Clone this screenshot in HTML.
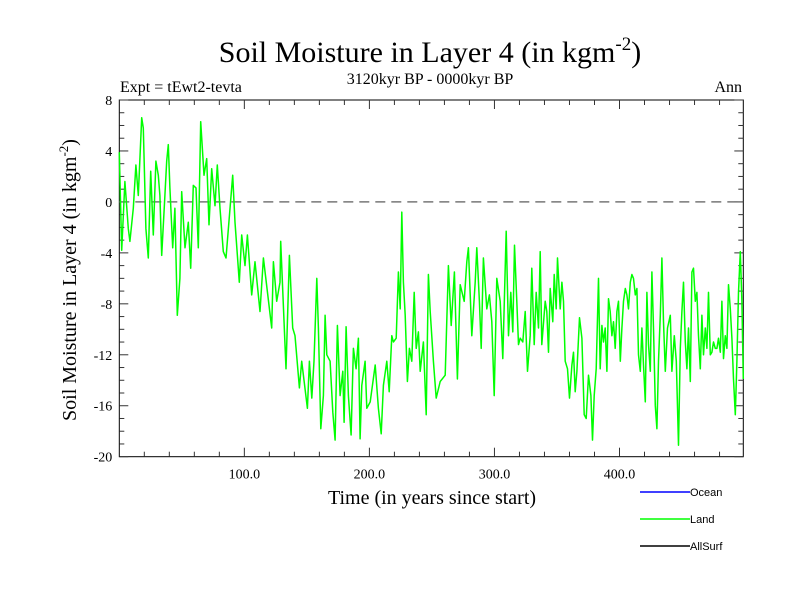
<!DOCTYPE html>
<html><head><meta charset="utf-8"><style>
body{margin:0;background:#fff}
svg text{font-family:"Liberation Serif",serif}
</style></head><body>
<svg id="chart" width="800" height="600" xmlns="http://www.w3.org/2000/svg">
<rect width="800" height="600" fill="#fff"/>
<text x="430" y="62" font-size="30" text-anchor="middle">Soil Moisture in Layer 4 (in kgm<tspan dy="-12" font-size="19">-2</tspan><tspan dy="12">)</tspan></text>
<text x="430" y="84" font-size="16" text-anchor="middle">3120kyr BP - 0000kyr BP</text>
<text x="120" y="92" font-size="16">Expt = tEwt2-tevta</text>
<text x="742" y="92" font-size="16" text-anchor="end">Ann</text>
<text transform="translate(76,280) rotate(-90)" font-size="20" text-anchor="middle">Soil Moisture in Layer 4 (in kgm<tspan dy="-8" font-size="13">-2</tspan><tspan dy="8">)</tspan></text>
<text x="432" y="504" font-size="20" text-anchor="middle">Time (in years since start)</text>
<g id="axes"></g>
<g id="series"></g>
<g font-size="11">
<g><line x1="640" y1="492" x2="690" y2="492" stroke="#0000ff" stroke-width="1.5"/><text x="690" y="496" style="font-family:'Liberation Sans',sans-serif" font-size="11">Ocean</text></g>
<g><line x1="640" y1="519" x2="690" y2="519" stroke="#00ff00" stroke-width="1.5"/><text x="690" y="523" style="font-family:'Liberation Sans',sans-serif" font-size="11">Land</text></g>
<g><line x1="640" y1="546" x2="690" y2="546" stroke="#000" stroke-width="1.5"/><text x="690" y="550" style="font-family:'Liberation Sans',sans-serif" font-size="11">AllSurf</text></g>
</g>
</svg>
<script>
const years=[0,1.9,4.5,7.2,8.5,11.2,13.3,15.2,17.9,19.2,21.3,23.2,25.1,27.2,29.3,31.2,32.5,33.9,36.5,37.9,39.2,40.5,42.7,44.5,46.4,48.5,49.9,52.5,55.2,57.1,59.2,61.3,63.2,65.1,67.7,69.9,71.7,73.9,76.5,78.4,80.5,83.2,85.3,90.7,92.5,96,97.9,100.5,102.4,105.9,108.5,112.5,115.2,121.9,123.2,125.9,128.5,129.1,133.3,136,138.7,140.5,144,145.9,150.4,152,153.9,155.7,157.9,159.2,161.1,163.2,164.6,165.9,168.6,170.7,172.6,174.4,176.6,178.7,179.8,181.4,183.2,185.4,187.2,189.4,191.2,192.6,193.9,196.6,197.9,200.6,204.6,207.2,209.4,211.2,213.9,215.8,217.9,219.2,221.4,223.2,224.6,225.9,227.2,228.6,230.4,232,233.9,235.8,237.4,239.2,240.6,243.2,245.4,247.2,248.6,251.2,253.4,256.6,260.6,263.2,265.4,268,270.4,272.6,275.8,277.9,279.2,281.9,284.6,285.9,288,289.4,291.2,293.9,296,297.9,299.8,301.9,304.6,306.7,308.6,309.4,311.2,313.1,314.7,316,317.9,319.2,320.6,322.7,324.6,326.4,328.6,329.9,331.8,333.4,335.2,336.6,337.9,340.6,341.9,343.2,344.6,346.7,347.8,349.4,350.4,352.6,353.9,355.2,356.6,358.4,360,361.9,363.2,364.6,365.9,368,369.9,371.8,373.4,375.2,377.1,378.4,379.8,381.4,383.2,384.6,385.9,387.2,388.6,389.9,391.2,392.6,393.9,395.2,396.6,397.9,399.2,400.6,401.9,403.2,404.6,405.9,407.2,408.6,409.9,411.2,412.6,413.9,415.2,416.6,417.9,419.2,420.6,421.9,423.2,424.6,425.9,427.2,428.6,429.9,431.2,432.6,433.9,435.2,436.6,438.4,440.6,441.9,443.8,445.4,447.2,448.6,449.9,451.2,452.6,453.9,455.2,456.6,457.9,459.2,460.6,461.9,463.2,464.6,465.9,467.2,468.6,469.9,471.2,472.6,473.9,475.2,476.6,477.9,479.2,480.6,481.9,483.2,484.6,485.9,487.2,488.6,489.9,491.2,492.6,493.9,495.2,496.6,497.9,499];
const landValues=[3.9,-3.8,1.6,-2.1,-3.1,-0.5,2.9,0.5,6.6,5.8,-2.1,-4.4,2.4,-2.6,3.2,2.1,0.5,-4.2,0.5,3.2,4.5,1.1,-3.6,-0.5,-8.9,-6.0,0.8,-3.6,-1.6,-5.2,1.3,1.1,-3.6,6.3,2.1,3.4,-1.8,2.6,-0.3,2.9,-0.5,-3.9,-4.4,2.1,-1.6,-6.3,-2.6,-5.0,-2.6,-7.3,-4.7,-8.6,-4.4,-9.9,-4.7,-7.8,-6.3,-3.1,-13.1,-4.2,-9.9,-10.5,-14.6,-12.5,-16.2,-12.5,-15.4,-12.5,-6.0,-9.9,-17.8,-15.2,-8.9,-12.0,-12.5,-16.5,-18.7,-9.7,-15.2,-13.3,-17.3,-9.8,-15.2,-18.3,-11.5,-13.1,-10.7,-18.6,-14.4,-12.5,-16.2,-15.7,-12.8,-16.2,-18.2,-14.4,-12.5,-14.9,-10.5,-11.0,-10.7,-5.5,-8.4,-0.8,-6.3,-8.9,-14.1,-11.5,-12.5,-7.1,-11.5,-10.2,-13.3,-11.0,-16.7,-5.7,-8.6,-12.5,-15.4,-14.1,-13.6,-5.0,-9.7,-5.5,-13.9,-6.5,-7.8,-4.7,-3.6,-10.5,-6.3,-3.6,-7.8,-11.5,-4.4,-8.4,-7.3,-9.4,-15.2,-6.0,-7.8,-12.3,-5.2,-2.3,-10.5,-7.1,-10.2,-3.4,-7.8,-11.2,-10.7,-11.0,-8.6,-13.3,-10.5,-5.2,-11.2,-7.1,-9.9,-3.9,-11.2,-7.8,-8.6,-11.8,-6.8,-9.4,-5.7,-8.4,-4.4,-8.4,-6.3,-7.8,-12.5,-13.1,-15.4,-12.8,-11.8,-14.9,-13.3,-9.1,-10.7,-16.7,-17.0,-13.6,-15.2,-18.7,-15.2,-13.1,-6.0,-13.1,-9.7,-11.0,-9.9,-13.3,-7.6,-8.6,-10.5,-9.4,-11.5,-8.6,-7.8,-12.5,-9.9,-7.8,-6.8,-7.3,-8.4,-6.3,-5.7,-6.0,-7.3,-6.8,-12.0,-13.3,-9.9,-12.8,-15.7,-7.1,-11.2,-13.3,-5.5,-9.9,-16.0,-17.8,-12.5,-8.9,-4.4,-9.4,-13.3,-9.9,-8.9,-13.3,-10.5,-12.5,-19.1,-11.5,-8.6,-6.3,-11.0,-13.1,-9.9,-14.1,-5.5,-5.2,-7.8,-7.1,-10.5,-13.1,-8.9,-12.0,-9.9,-11.5,-7.1,-12.0,-11.8,-11.0,-11.5,-11.5,-10.7,-11.8,-7.8,-12.3,-10.5,-11.5,-6.5,-8.4,-10.7,-13.9,-16.7,-12.5,-7.1,-3.9,-7.8,-13.9];
const yTicks=[8,4,0,-4,-8,-12,-16,-20];
const xTickLabels=[100,200,300,400];

const NS="http://www.w3.org/2000/svg";
const L=119.3,R=743.3,T=100,B=456.7,X0=0,X1=499,Y0=-20,Y1=8;
function xs(v){return L+(v-X0)/(X1-X0)*(R-L);}
function ys(v){return B-(v-Y0)/(Y1-Y0)*(B-T);}
function mk(tag,attrs,parent){const e=document.createElementNS(NS,tag);for(const k in attrs)e.setAttribute(k,attrs[k]);parent.appendChild(e);return e;}
const ax=document.getElementById('axes');
const frame=mk('rect',{x:L,y:T,width:R-L,height:B-T,fill:'none',stroke:'#000','stroke-width':1},ax);


for(let v=Y0;v<=Y1;v++){
  const len=(v%4===0)?9:5;const y=ys(v);
  mk('line',{x1:L,y1:y,x2:L+len,y2:y,stroke:'#333','stroke-width':1},ax);
  mk('line',{x1:R,y1:y,x2:R-len,y2:y,stroke:'#333','stroke-width':1},ax);
}
yTicks.forEach(v=>{
  const t=mk('text',{x:L-7,y:ys(v)+5,'font-size':14,'text-anchor':'end'},ax);
  t.textContent=v;
  
  
});
for(let v=20;v<X1;v+=20){
  const len=(v%100===0)?9:5;const x=xs(v);
  mk('line',{x1:x,y1:B,x2:x,y2:B-len,stroke:'#333','stroke-width':1},ax);
  mk('line',{x1:x,y1:T,x2:x,y2:T+len,stroke:'#333','stroke-width':1},ax);
}
xTickLabels.forEach(v=>{
  const t=mk('text',{x:xs(v),y:B+22,'font-size':14,'text-anchor':'middle'},ax);
  t.textContent=v.toFixed(1);
  
  
});
const zero=mk('line',{x1:L,y1:ys(0),x2:R,y2:ys(0),stroke:'#777','stroke-width':1.5,'stroke-dasharray':'10,6'},ax);


const sg=document.getElementById('series');
const pts=years.map((yr,i)=>xs(yr).toFixed(1)+','+ys(landValues[i]).toFixed(1)).join(' ');
const line=mk('polyline',{points:pts,fill:'none',stroke:'#00ff00','stroke-width':1.5,'stroke-linejoin':'round'},sg);


</script>
</body></html>
